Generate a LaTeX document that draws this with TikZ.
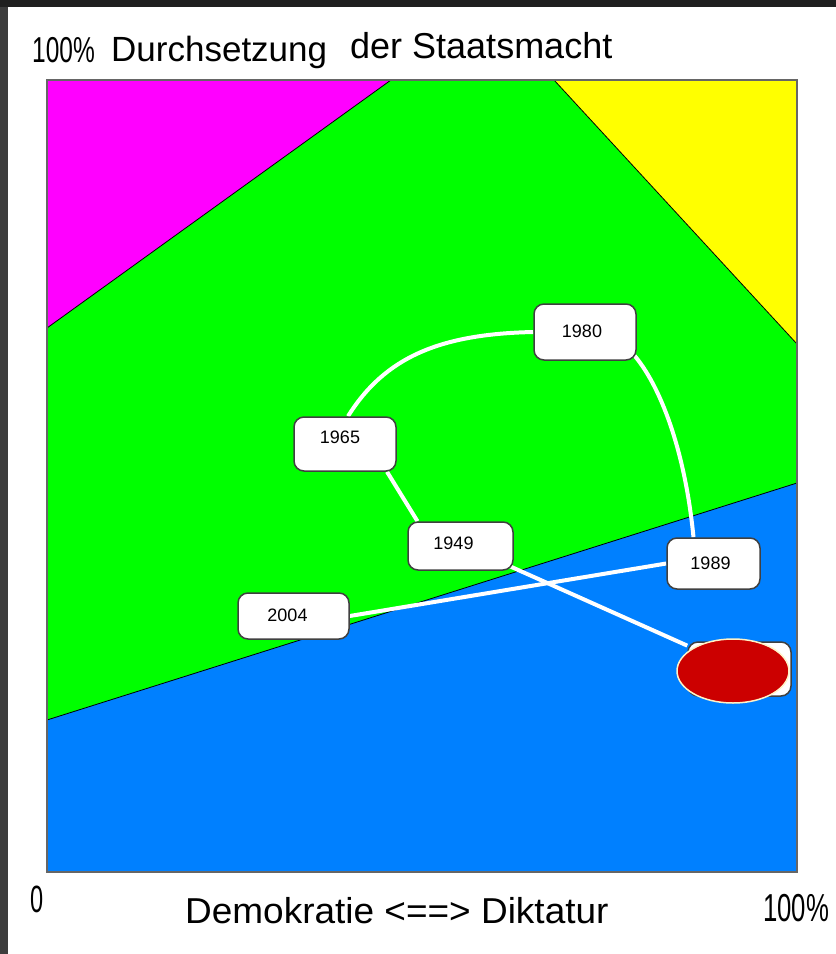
\documentclass[tikz,border=0pt]{standalone}
\usepackage{fontspec}
\setmainfont{Liberation Sans}
\usetikzlibrary{shapes.geometric}
\definecolor{frameA}{HTML}{1F1F1F}
\definecolor{frameB}{HTML}{3D3D3D}
\definecolor{magentaR}{HTML}{FF00FF}
\definecolor{greenR}{HTML}{00FF00}
\definecolor{yellowR}{HTML}{FFFF00}
\definecolor{blueR}{HTML}{0080FF}
\definecolor{redE}{HTML}{CC0000}
\definecolor{rimE}{HTML}{FFF3C8}
\definecolor{boxline}{HTML}{404040}
\pgfdeclarelayer{back}
\pgfdeclarelayer{mid}
\pgfsetlayers{back,mid,main}
\begin{document}
\begin{tikzpicture}[x=1pt,y=-1pt,
  yearbox/.style={draw=boxline, line width=1.5pt, fill=white, rounded corners=10pt, inner sep=0pt, text height=13pt, font=\fontsize{18}{20}\selectfont},
  link/.style={white, line width=4pt},
  border/.style={draw=black, line width=0.8pt},
  bigtext/.style={font=\fontsize{36}{40}\selectfont, inner sep=0pt, anchor=base west}
]
\useasboundingbox (0,0) rectangle (836,954);
\begin{pgfonlayer}{back}
\fill[white] (0,0) rectangle (836,954);
\fill[frameA] (0,0) rectangle (836,7);
\fill[frameB] (0,7) rectangle (8,954);
\fill[greenR] (47,80) rectangle (797,872);
\fill[magentaR] (47,80) -- (391,80) -- (47,328) -- cycle;
\fill[yellowR] (554,80) -- (797,80) -- (797,344) -- cycle;
\fill[blueR] (47,720) -- (797,483) -- (797,872) -- (47,872) -- cycle;
\draw[border] (391,80) -- (47,328);
\draw[border] (554,80) -- (797,344);
\draw[border] (47,720) -- (797,483);
\draw[draw=gray!80!black, line width=1.2pt] (47,80) rectangle (797,872);
\end{pgfonlayer}

% year boxes
\node[yearbox, minimum width=102pt, minimum height=56pt, text depth=2pt] (n1980) at (585,332) {1980\kern6pt};
\node[yearbox, minimum width=102pt, minimum height=54pt, text depth=14pt] (n1965) at (345,444) {1965\kern10pt};
\node[yearbox, minimum width=105pt, minimum height=48pt, text depth=6pt] (n1949) at (460.5,546) {1949\kern14pt};
\node[yearbox, minimum width=111pt, minimum height=46pt, text depth=2pt] (n2004) at (293.5,616) {2004\kern12pt};
\node[yearbox, minimum width=93pt, minimum height=51pt, text depth=2pt] (n1989) at (713.5,563.5) {1989\kern6pt};
\node[yearbox, minimum width=103pt, minimum height=54pt] (nhid) at (739.5,669) {};
\node[ellipse, draw=rimE, line width=1.5pt, fill=redE, minimum width=112pt, minimum height=64pt, inner sep=0pt] (dot) at (733,671) {};

% connectors
\begin{pgfonlayer}{mid}
\draw[link] ([xshift=3pt]n1965.north) .. controls (385,357) and (440,334) .. (n1980.west);
\draw[link] ([xshift=-3pt,yshift=6pt]n1980.south east) .. controls (660,385) and (685,450) .. ([xshift=-20pt]n1989.north);
\draw[link] ([xshift=42pt]n1965.south) -- ([xshift=-43pt]n1949.north);
\draw[link] ([xshift=-5pt,yshift=5pt]n1949.south east) -- (nhid);
\draw[link] (n2004.east) -- (n1989.west);
\end{pgfonlayer}

% texts
\node[bigtext] (t100) at (32,62) {\scalebox{0.68}[1]{100\%}};
\node[bigtext, font=\fontsize{35}{40}\selectfont] (tdurch) at (111,61) {Durchsetzung};
\node[bigtext] (tstaat) at (350,58) {der Staatsmacht};
\node[bigtext, font=\fontsize{38}{40}\selectfont] (tzero) at (30,912) {\scalebox{0.62}[1]{0}};
\node[bigtext] (tdemo) at (185,923) {\scalebox{1.027}[1]{Demokratie <==> Diktatur}};
\node[bigtext, font=\fontsize{39}{40}\selectfont] (t100b) at (763,921) {\scalebox{0.66}[1]{100\%}};
\end{tikzpicture}
\end{document}
